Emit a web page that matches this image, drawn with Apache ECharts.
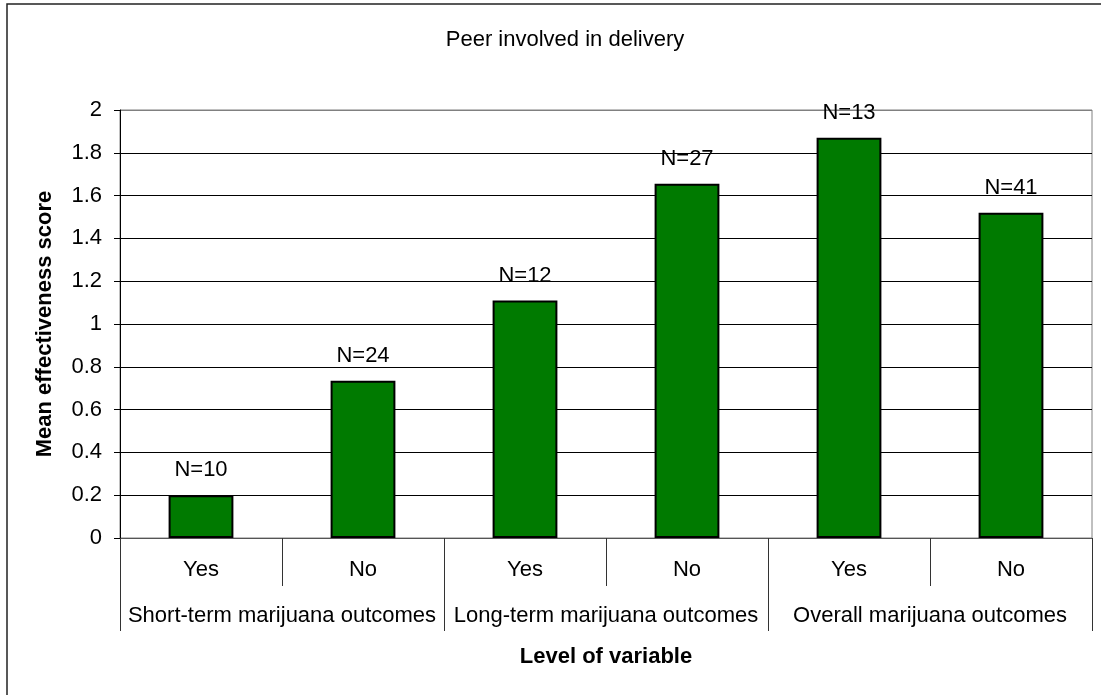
<!DOCTYPE html>
<html>
<head>
<meta charset="utf-8">
<script src="https://cdn.jsdelivr.net/npm/echarts@6/dist/echarts.min.js"></script>
<style>
html, body { margin: 0; padding: 0; background: #fff; }
#chart { width: 1101px; height: 695px; }
</style>
</head>
<body>
<div id="chart"></div>
<script>
var levels = ['Yes', 'No', 'Yes', 'No', 'Yes', 'No'];
var groups = ['Short-term marijuana outcomes', 'Long-term marijuana outcomes', 'Overall marijuana outcomes'];
var scores = [0.2, 0.735, 1.11, 1.655, 1.87, 1.52];
var nLabels = ['N=10', 'N=24', 'N=12', 'N=27', 'N=13', 'N=41'];
var yTicks = ['0', '0.2', '0.4', '0.6', '0.8', '1', '1.2', '1.4', '1.6', '1.8', '2'];

var font = 'Liberation Sans, Arial, sans-serif';
var chart = echarts.init(document.getElementById('chart'));

// gridlines black, the one at 2 is the grey plot border
var splitColors = yTicks.map(function(t, i) {
    return i === yTicks.length - 1 ? '#808080' : '#000';
});

var option = {
    animation: false,
    textStyle: { fontFamily: font },
    title: {
        text: 'Peer involved in delivery',
        left: 560,
        top: 24,
        textAlign: 'center',
        textStyle: { fontSize: 22, fontWeight: 'normal', color: '#000', fontFamily: font }
    },
    graphic: [{
        type: 'rect',
        shape: { x: 7, y: 4, width: 1110, height: 710 },
        style: { fill: 'none', stroke: '#222', lineWidth: 1.5 }
    }],
    grid: {
        left: 120,
        right: 9,
        top: 110,
        bottom: 157,
        show: true,
        borderColor: '#808080',
        borderWidth: 1
    },
    xAxis: [{
        type: 'category',
        data: levels,
        position: 'bottom',
        axisLine: { lineStyle: { color: '#555', width: 1 } },
        axisTick: { show: true, length: 48, lineStyle: { color: '#333' } },
        axisLabel: { margin: 21, fontSize: 22, color: '#000', fontFamily: font },
        splitLine: { show: false }
    }, {
        type: 'category',
        data: groups,
        position: 'bottom',
        axisLine: { show: false },
        axisTick: { show: true, length: 93, lineStyle: { color: '#333' } },
        axisLabel: { margin: 67, fontSize: 22, color: '#000', fontFamily: font, interval: 0 },
        name: 'Level of variable',
        nameLocation: 'middle',
        nameGap: 108,
        nameTextStyle: { fontSize: 22, fontWeight: 'bold', color: '#000', fontFamily: font }
    }],
    yAxis: {
        type: 'value',
        min: 0,
        max: 2,
        interval: 0.2,
        name: 'Mean effectiveness score',
        nameLocation: 'middle',
        nameGap: 64,
        nameTextStyle: { fontSize: 22, fontWeight: 'bold', color: '#000', fontFamily: font },
        axisLine: { show: true, lineStyle: { color: '#000' } },
        axisTick: { show: true, length: 6, lineStyle: { color: '#000' } },
        axisLabel: {
            margin: 18,
            fontSize: 22,
            color: '#000',
            fontFamily: font,
            formatter: function(v) {
                return yTicks[Math.round(v / 0.2)];
            }
        },
        splitLine: { show: true, lineStyle: { color: splitColors, width: 1 } }
    },
    series: [{
        type: 'bar',
        xAxisIndex: 0,
        data: scores,
        barWidth: '40%',
        itemStyle: { color: '#007a00', borderColor: '#000', borderWidth: 2 },
        label: {
            show: true,
            position: 'top',
            distance: 14,
            fontSize: 22,
            color: '#000',
            fontFamily: font,
            formatter: function(p) {
                return nLabels[p.dataIndex];
            }
        }
    }]
};
chart.setOption(option);
</script>
</body>
</html>
